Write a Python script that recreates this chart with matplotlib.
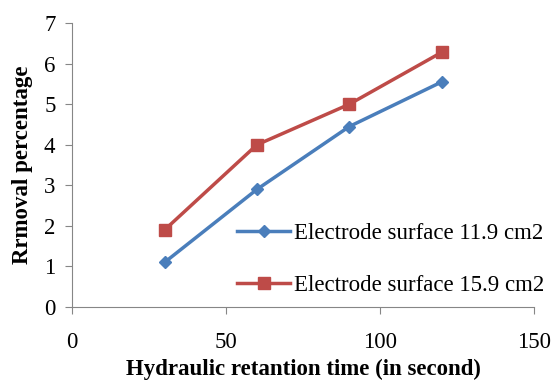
import matplotlib.pyplot as plt

time_s = [30, 60, 90, 120]
removal_11 = [1.1, 2.9, 4.45, 5.55]
removal_15 = [1.9, 4.0, 5.0, 6.28]
labels = ["Electrode surface 11.9 cm2", "Electrode surface 15.9 cm2"]

plt.rcParams['font.family'] = ['Liberation Serif', 'DejaVu Serif']

fig = plt.figure(figsize=(5.55, 3.8), dpi=100)
ax = fig.add_axes([0.130, 0.192, 0.832, 0.747])

ax.plot(time_s, removal_11, color='#4A7EBB', lw=2.5, marker='D', ms=6.5, label=labels[0])
ax.plot(time_s, removal_15, color='#BE4B48', lw=2.5, marker='s', ms=8.5, label=labels[1])

ax.set_xlim(0, 150)
ax.set_ylim(0, 7)
ax.set_xticks([0, 50, 100, 150])
ax.set_yticks(range(8))
for s in ['top', 'right']:
    ax.spines[s].set_visible(False)
for s in ['left', 'bottom']:
    ax.spines[s].set_color('#868686')
ax.tick_params(colors='#868686', labelcolor='black', labelsize=16.5, length=5, direction='out')
ax.tick_params(axis='x', pad=13)
ax.tick_params(axis='y', pad=7)

ax.set_xlabel("Hydraulic retantion time (in second)", fontsize=16.5, fontweight='bold', labelpad=4)
ax.set_ylabel("Rrmoval percentage", fontsize=16.5, fontweight='bold', labelpad=8)

ax.legend(loc='lower left', bbox_to_anchor=(0.338, 0.007), frameon=False, fontsize=16.5,
          handlelength=2.3, labelspacing=1.35, handletextpad=0.15, borderaxespad=0)

fig.savefig("out.png", dpi=100)
